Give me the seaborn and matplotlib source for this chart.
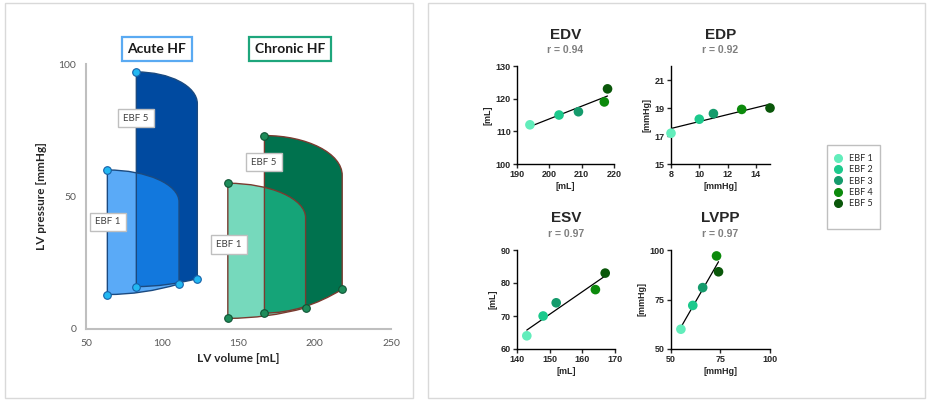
import numpy as np
import pandas as pd
import matplotlib
matplotlib.use("Agg")
import matplotlib.pyplot as plt
import seaborn as sns
from matplotlib.path import Path
from matplotlib.patches import PathPatch, Rectangle
from matplotlib.lines import Line2D

# --- PV loops (left panel), order: [EBF 1, EBF 5] ---
acute_esv = [64, 83]
acute_edv = [111, 123]
acute_esp = [60, 97]
acute_shoulder = [48, 85]
acute_edp = [17, 19]
acute_min = [13, 16]

chronic_esv = [143, 167]
chronic_edv = [194, 218]
chronic_esp = [55, 73]
chronic_shoulder = [42, 58]
chronic_edp = [8, 15]
chronic_min = [4, 6]

# --- correlations (right panel) ---
ebf = ["EBF 1", "EBF 2", "EBF 3", "EBF 4", "EBF 5"]
edv_x = [194, 203, 209, 217, 218]
edv_y = [112, 115, 116, 119, 123]
edp_x = [8, 10, 11, 13, 15]
edp_y = [17.2, 18.2, 18.6, 18.9, 19.0]
esv_x = [143, 148, 152, 164, 167]
esv_y = [64, 70, 74, 78, 83]
lvpp_x = [55, 61, 66, 73, 74]
lvpp_y = [60, 72, 81, 97, 89]
r_values = ["0.94", "0.92", "0.97", "0.97"]

ebf_colors = ["#62EDBB", "#1CC98C", "#159B6C", "#0C8A0C", "#0A570A"]

W, H = 928, 401
sns.set_style("white")
fig = plt.figure(figsize=(W / 100, H / 100), dpi=100)


def px_axes(x0, y0, x1, y1):
    return fig.add_axes([x0 / W, 1 - y1 / H, (x1 - x0) / W, (y1 - y0) / H])


def px_rect(x0, y0, x1, y1, **kw):
    fig.add_artist(Rectangle((x0 / W, 1 - y1 / H), (x1 - x0) / W, (y1 - y0) / H,
                             transform=fig.transFigure, fill=False, **kw))


# panel frames
px_rect(5, 3, 413, 398, ec="#D9D9D9", lw=1)
px_rect(428, 3, 925, 398, ec="#D9D9D9", lw=1)


def loop_path(esv, edv, esp, shoulder, edp, pmin):
    k = 0.55
    verts = [(esv, pmin), (esv, esp),
             (esv + k * (edv - esv), esp), (edv, shoulder + k * (esp - shoulder)), (edv, shoulder),
             (edv, edp),
             (esv + 0.5 * (edv - esv), pmin), (esv, pmin),
             (esv, pmin)]
    codes = [Path.MOVETO, Path.LINETO,
             Path.CURVE4, Path.CURVE4, Path.CURVE4,
             Path.LINETO,
             Path.CURVE3, Path.CURVE3,
             Path.CLOSEPOLY]
    return Path(verts, codes)


ax = px_axes(86, 64, 391, 329)
ax.set_xlim(50, 250)
ax.set_ylim(0, 100)

groups = [
    (acute_esv, acute_edv, acute_esp, acute_shoulder, acute_edp, acute_min,
     ["#1A8AF5", "#004AA0"], [0.72, 1.0], "#1B4A80", "#22B8F2", "#1560A8"),
    (chronic_esv, chronic_edv, chronic_esp, chronic_shoulder, chronic_edp, chronic_min,
     ["#22C393", "#00724E"], [0.62, 1.0], "#7A3B30", "#1E8C5A", "#0E5434"),
]
for esv, edv, esp, sh, edp, pmin, fills, alphas, edge, mface, medge in groups:
    for i in [1, 0]:
        p = loop_path(esv[i], edv[i], esp[i], sh[i], edp[i], pmin[i])
        ax.add_patch(PathPatch(p, fc=fills[i], alpha=alphas[i], ec="none", zorder=2))
        ax.add_patch(PathPatch(p, fc="none", ec=edge, lw=1, zorder=3))
    pts = pd.DataFrame({
        "v": esv + esv + edv,
        "p": esp + pmin + edp,
    })
    sns.scatterplot(data=pts, x="v", y="p", ax=ax, color=mface, edgecolor=medge,
                    linewidth=0.8, s=30, zorder=5, clip_on=False)

label_font = dict(family="Lato", fontsize=7, color="#404040")
box = dict(boxstyle="square,pad=0.5", fc="white", ec="#BFBFBF", lw=1)
ax.text(82.8, 79.6, "EBF 5", ha="center", va="center", bbox=box, zorder=6, **label_font)
ax.text(64.4, 40.4, "EBF 1", ha="center", va="center", bbox=box, zorder=6, **label_font)
ax.text(166.7, 63, "EBF 5", ha="center", va="center", bbox=box, zorder=6, **label_font)
ax.text(143.8, 32, "EBF 1", ha="center", va="center", bbox=box, zorder=6, **label_font)

fig.text(157 / W, 1 - 49 / H, "Acute HF", ha="center", va="center", family="Lato",
         fontsize=10, fontweight="bold", color="#1A1A1A",
         bbox=dict(boxstyle="square,pad=0.4", fc="white", ec="#5AAAF2", lw=1.6))
fig.text(290 / W, 1 - 49 / H, "Chronic HF", ha="center", va="center", family="Lato",
         fontsize=10, fontweight="bold", color="#1A1A1A",
         bbox=dict(boxstyle="square,pad=0.4", fc="white", ec="#1EA67C", lw=1.6))

ax.set_xticks([50, 100, 150, 200, 250])
ax.set_yticks([0, 50, 100])
sns.despine(ax=ax)
for s in ["left", "bottom"]:
    ax.spines[s].set_color("#BFBFBF")
    ax.spines[s].set_linewidth(1.5)
ax.tick_params(length=0, labelcolor="#595959", labelsize=7.5, pad=7)
for t in ax.get_xticklabels() + ax.get_yticklabels():
    t.set_family("Lato")
ax.set_xlabel("LV volume [mL]", family="Lato", fontsize=8.5, fontweight="bold", labelpad=4)
ax.set_ylabel("LV pressure [mmHg]", family="Lato", fontsize=8.5, fontweight="bold", labelpad=8)


def corr_panel(box_px, x, y, title, r, xlim, ylim, xticks, yticks, unit):
    a = px_axes(*box_px)
    sns.regplot(x=x, y=y, scatter=False, ci=None, color="black",
                line_kws={"lw": 0.9}, ax=a, truncate=True)
    df = pd.DataFrame({"x": x, "y": y, "EBF": ebf})
    sns.scatterplot(data=df, x="x", y="y", hue="EBF", palette=ebf_colors, s=48,
                    edgecolor="none", legend=False, ax=a, zorder=4, clip_on=False)
    a.set_xlim(*xlim)
    a.set_ylim(*ylim)
    a.set_xticks(xticks)
    a.set_yticks(yticks)
    sns.despine(ax=a)
    for s in ["left", "bottom"]:
        a.spines[s].set_color("black")
        a.spines[s].set_linewidth(1)
    a.tick_params(direction="out", length=3, width=1, labelsize=6.5, pad=1.5,
                  left=True, bottom=True)
    for t in a.get_xticklabels() + a.get_yticklabels():
        t.set_family("Liberation Sans")
        t.set_fontweight("bold")
    a.set_xlabel(unit, family="Liberation Sans", fontsize=6.5, fontweight="bold", labelpad=2)
    a.set_ylabel(unit, family="Liberation Sans", fontsize=6.5, fontweight="bold", labelpad=2)
    a.text(0.5, 1.32, title, transform=a.transAxes, ha="center", va="center",
           family="Liberation Sans", fontsize=11, fontweight="bold")
    a.text(0.5, 1.165, "r = " + r, transform=a.transAxes, ha="center", va="center",
           family="Liberation Sans", fontsize=7.5, fontweight="bold", color="#7F7F7F")
    return a


corr_panel((517, 66, 614, 164), edv_x, edv_y, "EDV", r_values[0],
           (190, 220), (100, 130), [190, 200, 210, 220], [100, 110, 120, 130], "[mL]")
corr_panel((671, 66, 770, 164), edp_x, edp_y, "EDP", r_values[1],
           (8, 15), (15, 22), [8, 10, 12, 14], [15, 17, 19, 21], "[mmHg]")
corr_panel((517, 250, 615, 349), esv_x, esv_y, "ESV", r_values[2],
           (140, 170), (60, 90), [140, 150, 160, 170], [60, 70, 80, 90], "[mL]")
corr_panel((671, 250, 770, 349), lvpp_x, lvpp_y, "LVPP", r_values[3],
           (50, 100), (50, 100), [50, 75, 100], [50, 75, 100], "[mmHg]")

# legend: frame drawn separately to match the loose box of the original
px_rect(827, 145, 880, 229, ec="#BFBFBF", lw=1)
handles = [Line2D([], [], marker="o", ls="", color=c, markersize=5.5) for c in ebf_colors]
fig.legend(handles, ebf, loc="center", bbox_to_anchor=(853 / W, 1 - 181 / H),
           frameon=False, prop={"family": "Lato", "size": 6.5}, labelspacing=0.25,
           handletextpad=0.7, borderpad=0.2, handlelength=1.0)

fig.savefig("out.png", dpi=100)
